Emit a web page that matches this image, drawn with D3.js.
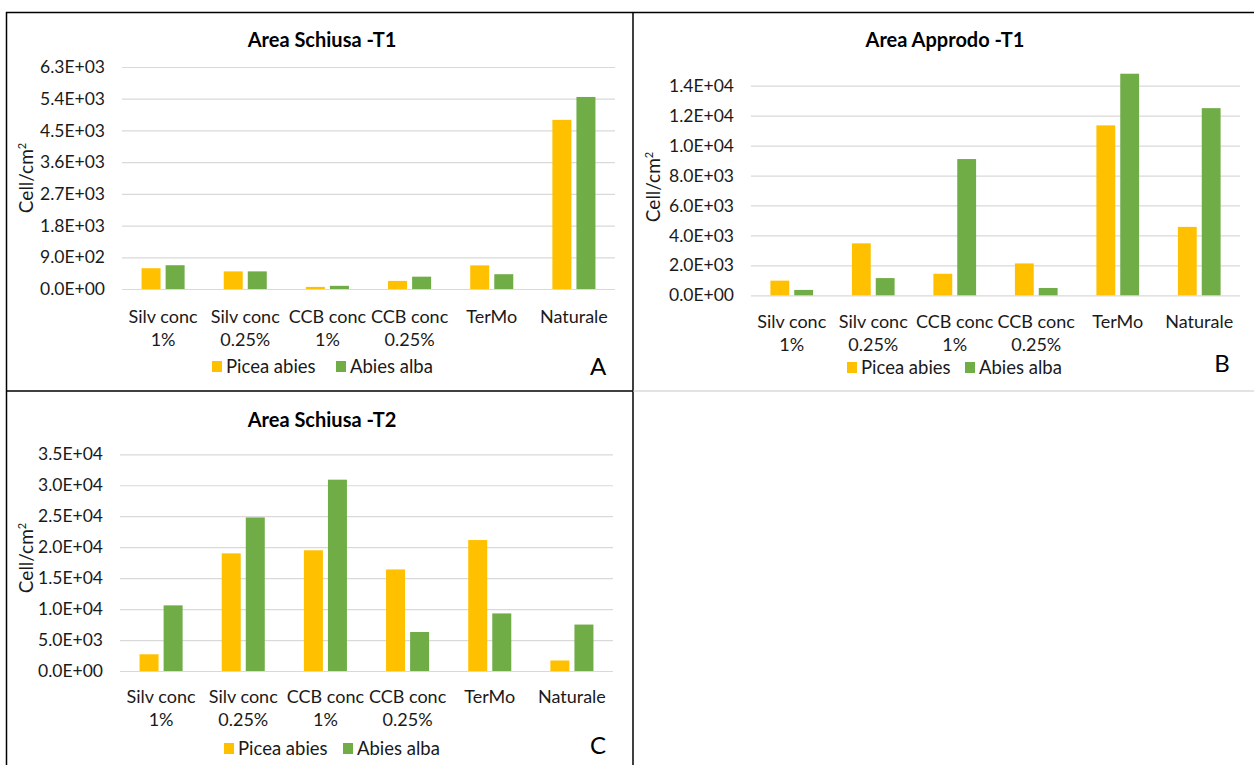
<!DOCTYPE html>
<html>
<head>
<meta charset="utf-8">
<script src="https://cdn.jsdelivr.net/npm/d3@7"></script>
<style>
  html, body { margin: 0; padding: 0; background: #fff; }
  svg { display: block; font-family: Lato, "Liberation Sans", sans-serif; }
</style>
</head>
<body>
<svg id="chart" width="1254" height="765"></svg>
<script>
// Treatments (x categories), shared by all three panels
const categories = ["Silv conc 1%", "Silv conc 0.25%", "CCB conc 1%", "CCB conc 0.25%", "TerMo", "Naturale"];
const speciesNames = ["Picea abies", "Abies alba"];
const speciesColors = ["#FFC000", "#70AD47"];

// A – Area Schiusa, T1 (cell/cm²)
const schiusaT1Picea = [590, 500, 60, 230, 670, 4800];
const schiusaT1Abies = [675, 500, 90, 350, 420, 5450];
const schiusaT1Ticks = [0, 900, 1800, 2700, 3600, 4500, 5400, 6300];

// B – Area Approdo, T1 (cell/cm²)
const approdoT1Picea = [980, 3470, 1440, 2130, 11350, 4570];
const approdoT1Abies = [360, 1150, 9100, 490, 14800, 12500];
const approdoT1Ticks = [0, 2000, 4000, 6000, 8000, 10000, 12000, 14000];

// C – Area Schiusa, T2 (cell/cm²)
const schiusaT2Picea = [2700, 19000, 19500, 16400, 21150, 1700];
const schiusaT2Abies = [10600, 24800, 30900, 6300, 9300, 7500];
const schiusaT2Ticks = [0, 5000, 10000, 15000, 20000, 25000, 30000, 35000];

const svg = d3.select("#chart");

// Excel-style scientific tick labels, e.g. 6.3E+03
function sci(v) {
  const [m, e] = v.toExponential(1).split("e");
  const sign = e[0] === "-" ? "-" : "+";
  const digits = e.replace(/[+-]/, "").padStart(2, "0");
  return m + "E" + sign + digits;
}

// "Silv conc 1%" -> ["Silv conc", "1%"]; single words stay on one line
function wrapLabel(s) {
  const w = s.split(" ");
  return w.length > 2 ? [w.slice(0, 2).join(" "), w.slice(2).join(" ")] : [s];
}

// Panel frames
const frame = svg.append("g");
frame.append("line").attr("x1", 6.5).attr("x2", 6.5).attr("y1", 12).attr("y2", 765).attr("stroke", "#000").attr("stroke-width", 1.5);
frame.append("line").attr("x1", 6).attr("x2", 1254).attr("y1", 12.5).attr("y2", 12.5).attr("stroke", "#000").attr("stroke-width", 1.5);
frame.append("line").attr("x1", 633).attr("x2", 633).attr("y1", 12).attr("y2", 765).attr("stroke", "#000").attr("stroke-width", 1.5);
frame.append("line").attr("x1", 6).attr("x2", 633).attr("y1", 391).attr("y2", 391).attr("stroke", "#000").attr("stroke-width", 1.5);
frame.append("line").attr("x1", 633).attr("x2", 1254).attr("y1", 391).attr("y2", 391).attr("stroke", "#c8c8c8").attr("stroke-width", 1);

function drawPanel(p) {
  const g = svg.append("g");
  const series = [p.picea, p.abies];

  const x = d3.scaleBand().domain(categories).range([p.left, p.right]).paddingInner(0.476).paddingOuter(0.238);
  const xs = d3.scaleBand().domain([0, 1]).range([0, x.bandwidth()]).paddingInner(0.21);
  const y = d3.scaleLinear().domain([0, d3.max(p.ticks)]).range([p.bottom, p.top]);

  // gridlines + tick labels
  const axis = d3.axisLeft(y).tickValues(p.ticks).tickFormat(sci).tickSize(-(p.right - p.left)).tickPadding(17);
  const ax = g.append("g").attr("transform", `translate(${p.left},0)`).call(axis);
  ax.select(".domain").remove();
  ax.selectAll(".tick line").attr("stroke", "#d9d9d9").attr("stroke-width", 1.2);
  ax.selectAll(".tick text").attr("fill", "#1a1a1a").style("font-size", "17.5px").style("font-family", "Lato, sans-serif");

  // bars
  series.forEach((vals, si) => {
    g.append("g").selectAll("rect").data(vals).join("rect")
      .attr("x", (d, i) => x(categories[i]) + xs(si))
      .attr("width", xs.bandwidth())
      .attr("y", d => y(d))
      .attr("height", d => y(0) - y(d))
      .attr("fill", speciesColors[si]);
  });

  // category labels
  const cl = g.append("g").selectAll("text").data(categories).join("text")
    .attr("text-anchor", "middle")
    .attr("fill", "#1a1a1a")
    .style("font-size", "18px");
  cl.each(function (c) {
    const lines = wrapLabel(c);
    const t = d3.select(this);
    lines.forEach((ln, k) => {
      t.append("tspan").attr("x", x(c) + x.bandwidth() / 2).attr("y", p.catY + k * 23).text(ln);
    });
  });

  // title
  g.append("text").attr("x", p.titleX).attr("y", p.titleY).attr("text-anchor", "middle")
    .attr("fill", "#000").style("font-size", "20px").style("font-weight", "bold").text(p.title);

  // y-axis title
  const yt = g.append("text")
    .attr("transform", `translate(${p.yTitleX},${p.yTitleY}) rotate(-90)`)
    .attr("text-anchor", "middle").attr("fill", "#1a1a1a").style("font-size", "19px");
  yt.append("tspan").text("Cell/cm");
  yt.append("tspan").attr("dy", -7).style("font-size", "11px").text("2");

  // legend
  speciesNames.forEach((name, si) => {
    const lx = p.legendX[si];
    g.append("rect").attr("x", lx).attr("y", p.legendY - 6).attr("width", 10).attr("height", 11).attr("fill", speciesColors[si]);
    g.append("text").attr("x", lx + 14).attr("y", p.legendY + 6).attr("fill", "#1a1a1a").style("font-size", "18.5px").text(name);
  });

  // panel letter
  g.append("text").attr("x", p.letterX).attr("y", p.letterY).attr("text-anchor", "middle")
    .attr("fill", "#000").style("font-size", "24px").text(p.letter);
}

drawPanel({
  title: "Area Schiusa -T1", letter: "A",
  picea: schiusaT1Picea, abies: schiusaT1Abies, ticks: schiusaT1Ticks,
  left: 122, right: 615, top: 67, bottom: 289,
  titleX: 322, titleY: 47, yTitleX: 33, yTitleY: 178,
  catY: 323, legendX: [212, 336], legendY: 367,
  letterX: 598, letterY: 375
});

drawPanel({
  title: "Area Approdo -T1", letter: "B",
  picea: approdoT1Picea, abies: approdoT1Abies, ticks: approdoT1Ticks,
  left: 751, right: 1240, top: 85.7, bottom: 295.3,
  titleX: 945, titleY: 47, yTitleX: 660, yTitleY: 187,
  catY: 328, legendX: [847, 965], legendY: 368,
  letterX: 1222, letterY: 372
});

drawPanel({
  title: "Area Schiusa -T2", letter: "C",
  picea: schiusaT2Picea, abies: schiusaT2Abies, ticks: schiusaT2Ticks,
  left: 120, right: 613, top: 454.3, bottom: 671,
  titleX: 322, titleY: 427, yTitleX: 33, yTitleY: 558,
  catY: 703, legendX: [224, 343], legendY: 749,
  letterX: 598, letterY: 754
});
</script>
</body>
</html>
